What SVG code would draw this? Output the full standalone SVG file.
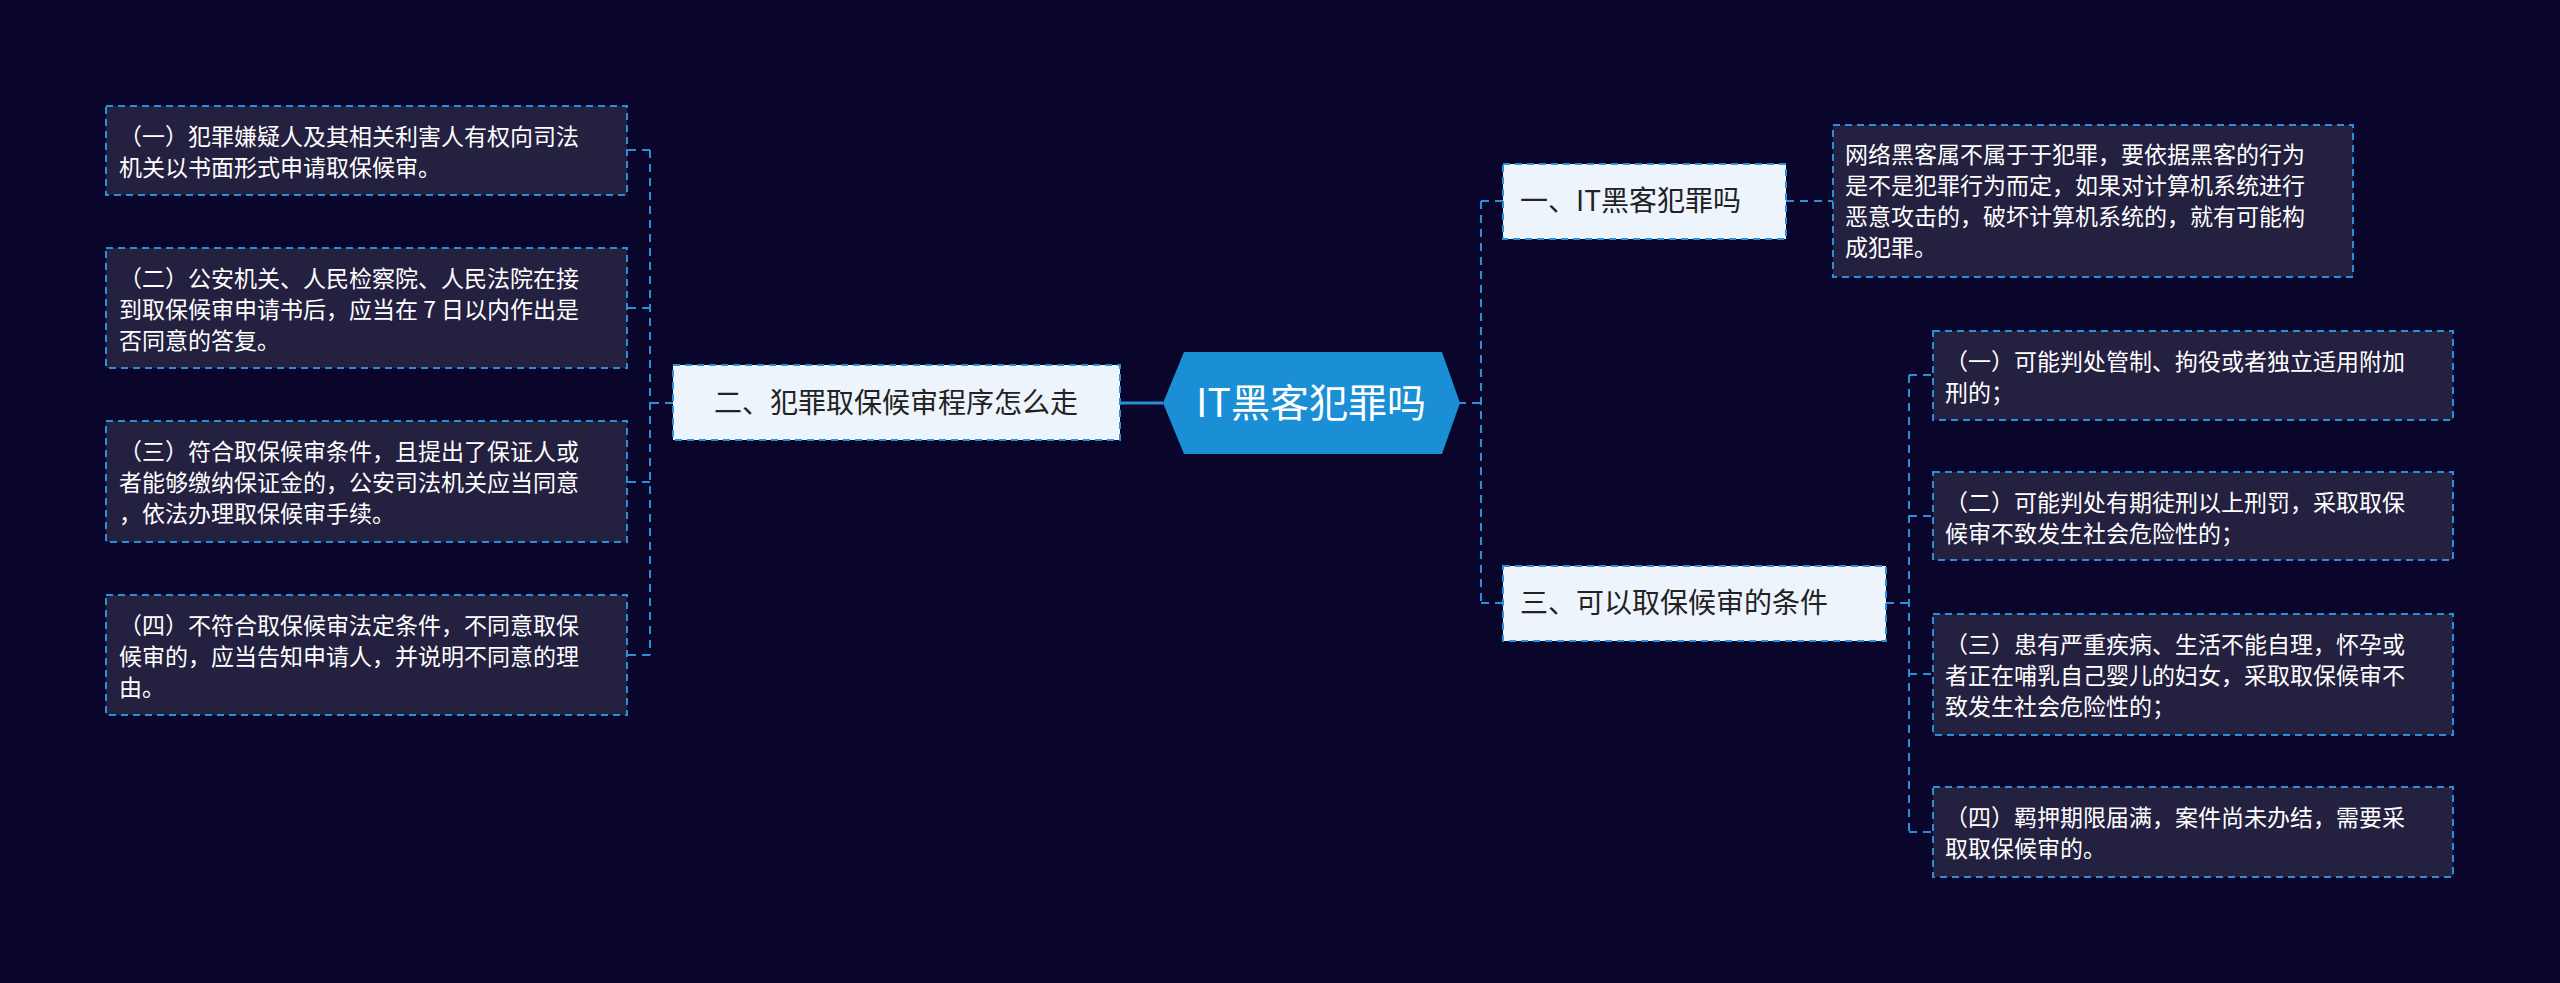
<svg xmlns="http://www.w3.org/2000/svg" width="2560" height="983" viewBox="0 0 2560 983">
<style>
text{font-family:"Noto Sans CJK SC","Noto Sans",sans-serif}
.box{fill:#24203f;stroke:#2a8fd6;stroke-width:2;stroke-dasharray:7,5}
.sub{fill:#eef4fc;stroke:#2a8fd6;stroke-width:2;stroke-dasharray:7,5}
.t{fill:#ffffff;font-size:23px}
.st{fill:#222;font-size:28px}
.ln{fill:none;stroke:#2a8fd6;stroke-width:2;stroke-dasharray:8,6}
</style>
<rect width="2560" height="983" fill="#0a052b"/>
<g id="connectors">
<path class="ln" d="M1458,403 H1481 M1481,201 V603 M1481,201 H1503 M1481,603 H1503"/>
<path class="ln" d="M1786,201 H1833"/>
<path class="ln" d="M1886,603 H1909 M1909,375 V832 M1909,375 H1933 M1909,516 H1933 M1909,674 H1933 M1909,832 H1933"/>
<path d="M1120,403 H1163" stroke="#2a8fd6" stroke-width="3"/>
<path class="ln" d="M673,403 H650 M650,150 V655 M650,150 H627 M650,308 H627 M650,482 H627 M650,655 H627"/>
</g>
<g id="root">
<polygon points="1163,403 1184,352 1442,352 1460,403 1442,454 1184,454" fill="#1a8fd6"/>
<text x="1311" y="417" fill="#fff" font-size="39" text-anchor="middle">IT黑客犯罪吗</text>
</g>
<g id="n1">
<rect class="sub" x="1503" y="164" width="283" height="75"/>
<text class="st" x="1520" y="211">一、IT黑客犯罪吗</text>
</g>
<g id="n1d">
<rect class="box" x="1833" y="125" width="520" height="152"/>
<text class="t"><tspan x="1845" y="163">网络黑客属不属于于犯罪，要依据黑客的行为</tspan><tspan x="1845" y="194">是不是犯罪行为而定，如果对计算机系统进行</tspan><tspan x="1845" y="225">恶意攻击的，破坏计算机系统的，就有可能构</tspan><tspan x="1845" y="256">成犯罪。</tspan></text>
</g>
<g id="n3">
<rect class="sub" x="1503" y="566" width="383" height="75"/>
<text class="st" x="1520" y="613">三、可以取保候审的条件</text>
</g>
<g id="r1">
<rect class="box" x="1933" y="331" width="520" height="89"/>
<text class="t"><tspan x="1945" y="370">（一）可能判处管制、拘役或者独立适用附加</tspan><tspan x="1945" y="401">刑的；</tspan></text>
</g>
<g id="r2">
<rect class="box" x="1933" y="472" width="520" height="88"/>
<text class="t"><tspan x="1945" y="511">（二）可能判处有期徒刑以上刑罚，采取取保</tspan><tspan x="1945" y="542">候审不致发生社会危险性的；</tspan></text>
</g>
<g id="r3">
<rect class="box" x="1933" y="614" width="520" height="121"/>
<text class="t"><tspan x="1945" y="653">（三）患有严重疾病、生活不能自理，怀孕或</tspan><tspan x="1945" y="684">者正在哺乳自己婴儿的妇女，采取取保候审不</tspan><tspan x="1945" y="715">致发生社会危险性的；</tspan></text>
</g>
<g id="r4">
<rect class="box" x="1933" y="787" width="520" height="90"/>
<text class="t"><tspan x="1945" y="826">（四）羁押期限届满，案件尚未办结，需要采</tspan><tspan x="1945" y="857">取取保候审的。</tspan></text>
</g>
<g id="n2">
<rect class="sub" x="673" y="365" width="447" height="75"/>
<text class="st" x="896" y="413" text-anchor="middle">二、犯罪取保候审程序怎么走</text>
</g>
<g id="l1">
<rect class="box" x="106" y="106" width="521" height="89"/>
<text class="t"><tspan x="119" y="145">（一）犯罪嫌疑人及其相关利害人有权向司法</tspan><tspan x="119" y="176">机关以书面形式申请取保候审。</tspan></text>
</g>
<g id="l2">
<rect class="box" x="106" y="248" width="521" height="120"/>
<text class="t"><tspan x="119" y="287">（二）公安机关、人民检察院、人民法院在接</tspan><tspan x="119" y="318">到取保候审申请书后，应当在 7 日以内作出是</tspan><tspan x="119" y="349">否同意的答复。</tspan></text>
</g>
<g id="l3">
<rect class="box" x="106" y="421" width="521" height="121"/>
<text class="t"><tspan x="119" y="460">（三）符合取保候审条件，且提出了保证人或</tspan><tspan x="119" y="491">者能够缴纳保证金的，公安司法机关应当同意</tspan><tspan x="119" y="522">，依法办理取保候审手续。</tspan></text>
</g>
<g id="l4">
<rect class="box" x="106" y="595" width="521" height="120"/>
<text class="t"><tspan x="119" y="634">（四）不符合取保候审法定条件，不同意取保</tspan><tspan x="119" y="665">候审的，应当告知申请人，并说明不同意的理</tspan><tspan x="119" y="696">由。</tspan></text>
</g>
</svg>
